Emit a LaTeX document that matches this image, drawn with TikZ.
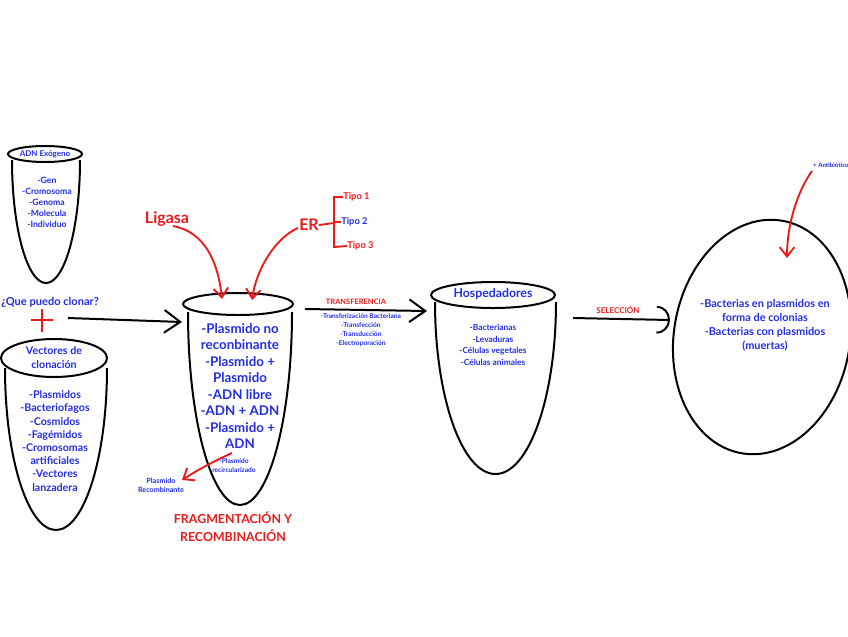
\documentclass[tikz,border=0pt]{standalone}
\usepackage{fontspec}
\setmainfont{Lato}
\usetikzlibrary{arrows.meta}

\definecolor{azul}{RGB}{35,45,230}
\definecolor{rojo}{RGB}{235,25,25}

\tikzset{
  cup/.style={line width=1.5pt},
  flecha/.style={line width=1.5pt, -{Straight Barb[length=12pt,width=17pt]}},
  flecharoja/.style={draw=rojo, line width=1.4pt, -{Straight Barb[length=7pt,width=11pt]}},
  lineraroja/.style={draw=rojo, line width=1.4pt},
  textoazul/.style={text=azul, align=center, inner sep=0pt},
  textorojo/.style={text=rojo, align=center, inner sep=0pt},
  fs/.style 2 args={font=\bfseries\fontsize{#1}{#2}\selectfont}
}

\begin{document}
\begin{tikzpicture}[x=0.75pt, y=-0.75pt]
  \useasboundingbox (0,0) rectangle (848,636);

  % ADN exogeno
  \draw[cup] (45,154) ellipse [x radius=37, y radius=8];
  \draw[cup] (12,160) arc [start angle=180, end angle=0, x radius=34, y radius=123];
  \node[textoazul, fs={6}{7.5}] (exo) at (45,154) {ADN Exógeno};
  \node[textoazul, fs={6.5}{8.2}] (exolista) at (47,202) {-Gen\\-Cromosoma\\-Genoma\\-Molecula\\-Individuo};

  \node[textoazul, fs={8.3}{10}] (pregunta) at (50,302) {¿Que puedo clonar?};
  \draw[lineraroja, line width=1.6pt] (31,320) -- (53,320);
  \draw[lineraroja, line width=1.6pt] (42,309) -- (42,332);

  % vectores
  \draw[cup] (54,358) ellipse [x radius=53, y radius=19];
  \draw[cup] (5,368) arc [start angle=180, end angle=0, x radius=51, y radius=162];
  \node[textoazul, fs={8}{10.5}] (vectores) at (54,358) {Vectores de\\clonación};
  \node[textoazul, fs={8}{9.9}] (vectlista) at (55,441) {-Plasmidos\\-Bacteriofagos\\-Cosmidos\\-Fagémidos\\-Cromosomas\\artificiales\\-Vectores\\lanzadera};

  \coordinate (v1) at (68,318);
  \coordinate (v2) at (182,322);
  \draw[flecha] (v1) -- (v2);

  % fragmentacion y recombinacion
  \draw[cup] (238,304) ellipse [x radius=55, y radius=11];
  \draw[cup] (188,312) arc [start angle=180, end angle=0, x radius=52, y radius=193];
  \node[textoazul, fs={10}{12.4}] (mezcla) at (240,386) {-Plasmido no\\reconbinante\\-Plasmido +\\Plasmido\\-ADN libre\\-ADN + ADN\\-Plasmido +\\ADN};
  \node[textoazul, fs={5}{6.8}] (recirc) at (234,466) {-Plasmido\\recircularizado};
  \node[textoazul, fs={5.4}{6.8}] (recomb) at (161,485) {Plasmido\\Recombinante};
  \coordinate (r1) at (232,453);
  \coordinate (r2) at (182,480);
  \draw[flecharoja] (r1) .. controls (212,462) and (196,471) .. (r2);
  \node[textorojo, fs={9.3}{13.5}] (frag) at (233,527) {FRAGMENTACIÓN Y\\RECOMBINACIÓN};

  % enzimas
  \node[textorojo, fs={12}{14}] (ligasa) at (167,219) {Ligasa};
  \coordinate (l1) at (173,226);
  \coordinate (l2) at (222,299);
  \draw[flecharoja] (l1) .. controls (205,232) and (218,262) .. (l2);
  \node[textorojo, fs={12}{14}] (er) at (309,225) {ER};
  \coordinate (e1) at (298,228);
  \coordinate (e2) at (252,300);
  \draw[flecharoja] (e1) .. controls (275,238) and (256,270) .. (e2);
  \node[textorojo, fs={7}{8}, anchor=west] (tipo1) at (343,197) {Tipo 1};
  \node[textoazul, fs={7}{8}, anchor=west] (tipo2) at (341,222) {Tipo 2};
  \node[textorojo, fs={7}{8}, anchor=west] (tipo3) at (347,246) {Tipo 3};
  \draw[lineraroja] (er.east) -- (334,223);
  \draw[lineraroja] (tipo1.west) -| (334,247) -- (tipo3.west);
  \draw[lineraroja] (334,222) -- (tipo2.west);

  % transferencia
  \coordinate (t1) at (305,309);
  \coordinate (t2) at (427,311);
  \draw[flecha] (t1) -- (t2);
  \node[textorojo, fs={5.6}{7}] (transf) at (356,302) {TRANSFERENCIA};
  \node[textoazul, fs={5}{6.8}] (transflista) at (361,330) {-Transferización Bacteriana\\-Transfección\\-Transducción\\-Electroporación};

  % hospedadores
  \draw[cup] (493,295) ellipse [x radius=62, y radius=13];
  \draw[cup] (435,302) arc [start angle=180, end angle=0, x radius=60.5, y radius=172];
  \node[textoazul, fs={9.2}{11}] (hosp) at (493,294) {Hospedadores};
  \node[textoazul, fs={6.3}{8.6}] (hosplista) at (493,345) {-Bacterianas\\-Levaduras\\-Células vegetales\\-Células animales};

  % seleccion
  \coordinate (s1) at (573,318);
  \coordinate (s2) at (670,320);
  \draw[line width=1.5pt, -{Arc Barb[length=10pt,width=21pt]}] (s1) -- (s2);
  \node[textorojo, fs={6}{7}] (selec) at (618,310) {SELECCIÓN};

  % colonias
  \draw[cup, rotate around={-10:(762,337)}] (762,337) ellipse [x radius=88, y radius=118];
  \node[textoazul, fs={8.2}{10.5}] (colonias) at (765,325) {-Bacterias en plasmidos en\\forma de colonias\\-Bacterias con plasmidos\\(muertas)};
  \node[textoazul, fs={4.6}{6}, anchor=east] (antib) at (849,165) {+ Antibiótico};
  \coordinate (b1) at (812,171);
  \coordinate (b2) at (787,258);
  \draw[flecharoja] (b1) .. controls (797,192) and (787,225) .. (b2);
\end{tikzpicture}
\end{document}
